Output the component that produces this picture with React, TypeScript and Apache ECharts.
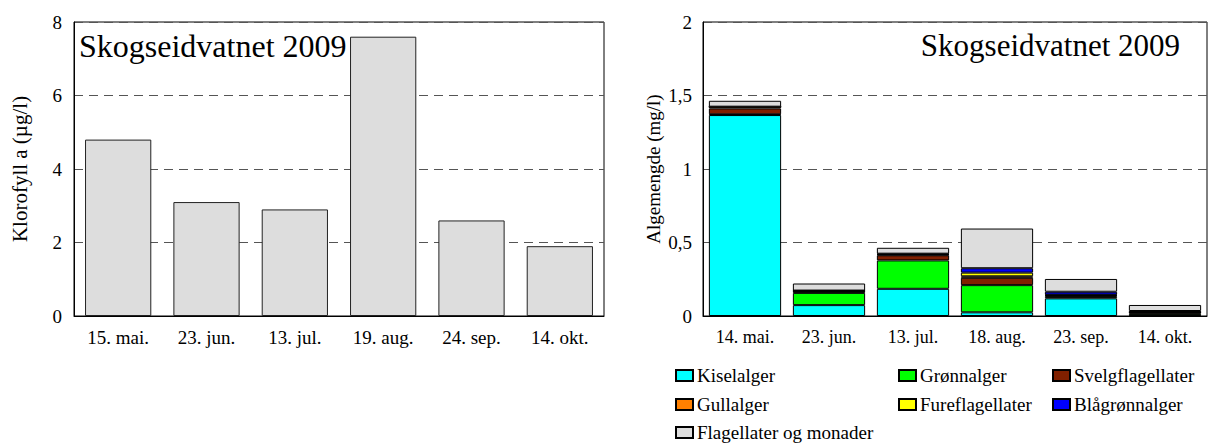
import React, { useEffect, useRef } from "react";
import * as echarts from "echarts";

const chlCategories = ["15. mai.", "23. jun.", "13. jul.", "19. aug.", "24. sep.", "14. okt."];
const chlValues = [4.8, 3.1, 2.9, 7.6, 2.6, 1.9];

const algCategories = ["14. mai.", "23. jun.", "13. jul.", "18. aug.", "23. sep.", "14. okt."];
const kiselalger = [1.367, 0.074, 0.185, 0.025, 0.12, 0.005];
const gronnalger = [0.005, 0.083, 0.193, 0.185, 0.01, 0.01];
const svelgflagellater = [0.04, 0.01, 0.035, 0.05, 0.008, 0.008];
const gullalger = [0.012, 0.003, 0.005, 0.01, 0.004, 0.003];
const fureflagellater = [0.0, 0.0, 0.003, 0.025, 0.003, 0.0];
const blagronnalger = [0.0, 0.003, 0.003, 0.03, 0.02, 0.008];
const flagellater = [0.04, 0.048, 0.04, 0.27, 0.087, 0.041];

const seriesNames = [
  "Kiselalger",
  "Grønnalger",
  "Svelgflagellater",
  "Gullalger",
  "Fureflagellater",
  "Blågrønnalger",
  "Flagellater og monader",
];
const seriesData = [kiselalger, gronnalger, svelgflagellater, gullalger, fureflagellater, blagronnalger, flagellater];
const seriesColors = ["#00FFFF", "#00FF00", "#802000", "#FF8000", "#FFFF00", "#0000FF", "#DDDDDD"];

const FONT = "'Liberation Serif', 'Times New Roman', serif";

export default function App() {
  const ref = useRef<HTMLDivElement>(null);
  useEffect(() => {
    if (!ref.current) return;
    const chart = echarts.init(ref.current, undefined, { renderer: "svg" });

    const legendPos = [
      { left: 675, top: 366 },
      { left: 898, top: 366 },
      { left: 1052, top: 366 },
      { left: 675, top: 395 },
      { left: 898, top: 395 },
      { left: 1052, top: 395 },
      { left: 675, top: 423 },
    ];

    const option: any = {
      animation: false,
      backgroundColor: "#fff",
      textStyle: { fontFamily: FONT, color: "#000" },
      title: [
        {
          text: "Skogseidvatnet 2009",
          left: 79,
          top: 30,
          textStyle: { fontFamily: FONT, fontSize: 32, fontWeight: "normal", color: "#000" },
          padding: 0,
        },
        {
          text: "Skogseidvatnet 2009",
          right: 28,
          top: 30,
          textStyle: { fontFamily: FONT, fontSize: 31, fontWeight: "normal", color: "#000" },
          padding: 0,
        },
      ],
      grid: [
        { left: 74, top: 22, width: 530, height: 294, show: true, borderColor: "#000", borderWidth: 1, backgroundColor: "transparent" },
        { left: 703, top: 22, width: 504, height: 294, show: true, borderColor: "#000", borderWidth: 1, backgroundColor: "transparent" },
      ],
      legend: seriesNames.map((n, i) => ({
        data: [n],
        left: legendPos[i].left,
        top: legendPos[i].top,
        padding: 0,
        icon: "rect",
        itemWidth: 17,
        itemHeight: 11,
        itemGap: 0,
        selectedMode: false,
        textStyle: { fontFamily: FONT, fontSize: 19, color: "#000", padding: [0, 0, 0, -1] },
      })),
      xAxis: [
        {
          type: "category",
          gridIndex: 0,
          data: chlCategories,
          axisLine: { lineStyle: { color: "#000" } },
          axisTick: { show: false },
          axisLabel: { fontFamily: FONT, fontSize: 19, color: "#000", margin: 12 },
        },
        {
          type: "category",
          gridIndex: 1,
          data: algCategories,
          axisLine: { lineStyle: { color: "#000" } },
          axisTick: { show: false },
          axisLabel: { fontFamily: FONT, fontSize: 18, color: "#000", margin: 12 },
        },
      ],
      yAxis: [
        {
          type: "value",
          gridIndex: 0,
          min: 0,
          max: 8,
          interval: 2,
          name: "Klorofyll a (µg/l)",
          nameLocation: "middle",
          nameGap: 44,
          nameTextStyle: { fontFamily: FONT, fontSize: 21, color: "#000" },
          axisLine: { show: true, lineStyle: { color: "#000" } },
          axisTick: { show: false },
          axisLabel: { fontFamily: FONT, fontSize: 19, color: "#000", margin: 12 },
          splitLine: { show: true, lineStyle: { color: "#555", type: [9, 6], width: 1 } },
        },
        {
          type: "value",
          gridIndex: 1,
          min: 0,
          max: 2,
          interval: 0.5,
          name: "Algemengde (mg/l)",
          nameLocation: "middle",
          nameGap: 40,
          nameTextStyle: { fontFamily: FONT, fontSize: 19, color: "#000" },
          axisLine: { show: true, lineStyle: { color: "#000" } },
          axisTick: { show: false },
          axisLabel: {
            fontFamily: FONT,
            fontSize: 19,
            color: "#000",
            margin: 11,
            formatter: (v: number) => String(v).replace(".", ","),
          },
          splitLine: { show: true, lineStyle: { color: "#555", type: [9, 6], width: 1 } },
        },
      ],
      series: [
        {
          name: "Klorofyll",
          type: "bar",
          xAxisIndex: 0,
          yAxisIndex: 0,
          data: chlValues,
          barCategoryGap: "25%",
          itemStyle: { color: "#DDDDDD", borderColor: "#222", borderWidth: 1 },
        },
        ...seriesNames.map((n, i) => ({
          name: n,
          type: "bar",
          stack: "alg",
          xAxisIndex: 1,
          yAxisIndex: 1,
          data: seriesData[i],
          barCategoryGap: "14%",
          itemStyle: { color: seriesColors[i], borderColor: "#000", borderWidth: 1 },
        })),
      ],
    };
    chart.setOption(option);
    return () => chart.dispose();
  }, []);

  return (
    <div
      ref={ref}
      style={{ position: "fixed", left: 0, top: 0, width: 1208, height: 445, background: "#fff" }}
    />
  );
}
